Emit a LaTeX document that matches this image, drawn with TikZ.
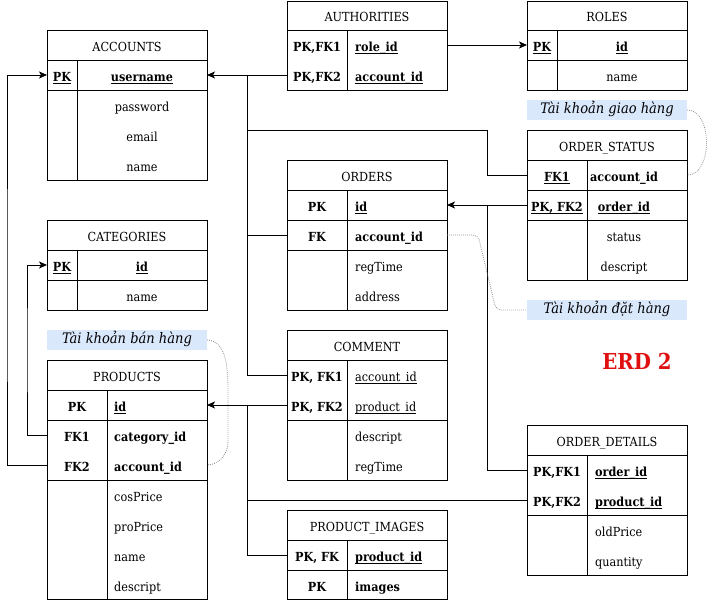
\documentclass[tikz,border=0pt]{standalone}
\usepackage{fontspec}
\setmainfont{DejaVu Serif Condensed}
\usetikzlibrary{arrows.meta}
\definecolor{lblue}{HTML}{DAE8FC}
\definecolor{erdred}{HTML}{E01010}
\newcommand\uln[1]{\setbox0\hbox{#1}\rlap{\rule[-1.9pt]{\wd0}{0.7pt}}\box0}
\newcommand\erdbox[8]{%
  \node[tbl, minimum width={#3-#1}, minimum height={#4-#2}] (#8) at ({(#1+#3)/2},{(#2+#4)/2}) {};
  \draw[tblline] (#1,#5) -- (#3,#5);
  \draw[tblline] (#6,#5) -- (#6,#4);
  \node[hdr] (#8-title) at ({(#1+#3)/2},{(#2+#5)/2}) {#7};
}
\begin{document}
\begin{tikzpicture}[x=1pt,y=-1pt,
  tbl/.style={draw, line width=0.9pt, inner sep=0, outer sep=0},
  tblline/.style={line width=0.9pt},
  hdr/.style={font=\fontsize{12.5}{15}\selectfont, inner sep=0, text height=13pt, text depth=0pt},
  t/.style={font=\fontsize{12.5}{15}\selectfont, inner sep=0, text height=13pt, text depth=0pt},
  tb/.style={t, font=\fontsize{12.5}{15}\selectfont\bfseries},
  tw/.style={t, anchor=west},
  tbw/.style={tb, anchor=west},
  rowbox/.style={minimum width=160pt, minimum height=30pt, inner sep=0, outer sep=0},
  conn/.style={line width=0.9pt},
  arr/.style={conn, -{Stealth[length=8pt,width=7pt,inset=2pt]}},
  note/.style={draw=gray!90, line width=0.8pt, dash pattern=on 0.8pt off 1.2pt},
  lbl/.style={fill=lblue, minimum width=160pt, minimum height=20pt, inner sep=0,
    font=\fontsize{14.5}{17}\selectfont\itshape, text height=10pt, text depth=3pt}
]
\useasboundingbox (0,0) rectangle (708,601);

% ---------- ACCOUNTS ----------
\erdbox{47}{30}{207}{180}{60}{77}{ACCOUNTS}{acc}
\draw[tblline] (47,90) -- (207,90);
\node[rowbox] (acc-user) at (127,75) {};
\node[tb] (acc-k1) at (62,75) {\uln{PK}};
\node[tb] (acc-a1) at (142,75) {\uln{username}};
\node[t] (acc-a2) at (142,105) {password};
\node[t] (acc-a3) at (142,135) {email};
\node[t] (acc-a4) at (142,165) {name};

% ---------- AUTHORITIES ----------
\erdbox{287}{1}{447}{90}{30}{347}{AUTHORITIES}{auth}
\node[rowbox] (auth-role) at (367,45) {};
\node[rowbox] (auth-acc) at (367,75) {};
\node[tb] (auth-k1) at (317,45) {PK,FK1};
\node[tb] (auth-k2) at (317,75) {PK,FK2};
\node[tbw] (auth-a1) at (355,45) {\uln{role\_id}};
\node[tbw] (auth-a2) at (355,75) {\uln{account\_id}};

% ---------- ROLES ----------
\erdbox{527}{1}{687}{90}{30}{557}{ROLES}{roles}
\draw[tblline] (527,60) -- (687,60);
\node[rowbox] (roles-id) at (607,45) {};
\node[tb] (roles-k1) at (542,45) {\uln{PK}};
\node[tb] (roles-a1) at (622,45) {\uln{id}};
\node[t] (roles-a2) at (622,75) {name};

% ---------- label giao hang ----------
\node[lbl] (lbl-giao) at (607,110) {Tài khoản giao hàng};

% ---------- ORDER_STATUS ----------
\erdbox{527}{130}{687}{280}{160}{587}{ORDER\_STATUS}{os}
\draw[tblline] (527,190) -- (687,190);
\draw[tblline] (527,220) -- (687,220);
\node[rowbox] (os-acc) at (607,175) {};
\node[rowbox] (os-ord) at (607,205) {};
\node[tb] (os-k1) at (557,175) {\uln{FK1}};
\node[tb] (os-a1) at (624,175) {account\_id};
\node[tb] (os-k2) at (557,205) {\uln{PK, FK2}};
\node[tb] (os-a2) at (624,205) {\uln{order\_id}};
\node[t] (os-a3) at (624,235) {status};
\node[t] (os-a4) at (624,265) {descript};

% ---------- ORDERS ----------
\erdbox{287}{160}{447}{310}{190}{347}{ORDERS}{ord}
\draw[tblline] (287,220) -- (447,220);
\draw[tblline] (287,250) -- (447,250);
\node[rowbox] (ord-id) at (367,205) {};
\node[rowbox] (ord-acc) at (367,235) {};
\node[tb] (ord-k1) at (317,205) {PK};
\node[tb] (ord-k2) at (317,235) {FK};
\node[tbw] (ord-a1) at (355,205) {\uln{id}};
\node[tbw] (ord-a2) at (355,235) {account\_id};
\node[tw] (ord-a3) at (355,265) {regTime};
\node[tw] (ord-a4) at (355,295) {address};

% ---------- label dat hang ----------
\node[lbl] (lbl-dat) at (607,310) {Tài khoản đặt hàng};

% ---------- ERD 2 ----------
\node[font=\fontsize{22}{26}\selectfont\bfseries, text=erdred, inner sep=0] (erd) at (637,361) {ERD 2};

% ---------- COMMENT ----------
\erdbox{287}{330}{447}{480}{360}{347}{COMMENT}{com}
\draw[tblline] (287,420) -- (447,420);
\node[rowbox] (com-acc) at (367,375) {};
\node[rowbox] (com-prod) at (367,405) {};
\node[tb] (com-k1) at (317,375) {PK, FK1};
\node[tb] (com-k2) at (317,405) {PK, FK2};
\node[tw] (com-a1) at (355,375) {\uln{account\_id}};
\node[tw] (com-a2) at (355,405) {\uln{product\_id}};
\node[tw] (com-a3) at (355,435) {descript};
\node[tw] (com-a4) at (355,465) {regTime};

% ---------- ORDER_DETAILS ----------
\erdbox{527}{425}{687}{575}{455}{587}{ORDER\_DETAILS}{od}
\draw[tblline] (527,515) -- (687,515);
\node[rowbox] (od-ord) at (607,470) {};
\node[rowbox] (od-prod) at (607,500) {};
\node[tb] (od-k1) at (557,470) {PK,FK1};
\node[tb] (od-k2) at (557,500) {PK,FK2};
\node[tbw] (od-a1) at (595,470) {\uln{order\_id}};
\node[tbw] (od-a2) at (595,500) {\uln{product\_id}};
\node[tw] (od-a3) at (595,530) {oldPrice};
\node[tw] (od-a4) at (595,560) {quantity};

% ---------- PRODUCT_IMAGES ----------
\erdbox{287}{510}{447}{599.5}{540}{347}{PRODUCT\_IMAGES}{pi}
\draw[tblline] (287,570) -- (447,570);
\node[rowbox] (pi-prod) at (367,555) {};
\node[tb] (pi-k1) at (317,555) {PK, FK};
\node[tb] (pi-k2) at (317,585) {PK};
\node[tbw] (pi-a1) at (355,555) {\uln{product\_id}};
\node[tbw] (pi-a2) at (355,585) {images};

% ---------- CATEGORIES ----------
\erdbox{47}{220}{207}{310}{250}{77}{CATEGORIES}{cat}
\draw[tblline] (47,280) -- (207,280);
\node[rowbox] (cat-id) at (127,265) {};
\node[tb] (cat-k1) at (62,265) {\uln{PK}};
\node[tb] (cat-a1) at (142,265) {\uln{id}};
\node[t] (cat-a2) at (142,295) {name};

% ---------- label ban hang ----------
\node[lbl] (lbl-ban) at (127,340) {Tài khoản bán hàng};

% ---------- PRODUCTS ----------
\erdbox{47}{360}{207}{599.5}{390}{107}{PRODUCTS}{prod}
\draw[tblline] (47,420) -- (207,420);
\draw[tblline] (47,480) -- (207,480);
\node[rowbox] (prod-id) at (127,405) {};
\node[rowbox] (prod-cat) at (127,435) {};
\node[rowbox] (prod-acc) at (127,465) {};
\node[tb] (prod-k1) at (77,405) {PK};
\node[tb] (prod-k2) at (77,435) {FK1};
\node[tb] (prod-k3) at (77,465) {FK2};
\node[tbw] (prod-a1) at (114,405) {\uln{id}};
\node[tbw] (prod-a2) at (114,435) {category\_id};
\node[tbw] (prod-a3) at (114,465) {account\_id};
\node[tw] (prod-a4) at (114,495) {cosPrice};
\node[tw] (prod-a5) at (114,525) {proPrice};
\node[tw] (prod-a6) at (114,555) {name};
\node[tw] (prod-a7) at (114,585) {descript};

% ---------- connectors ----------
\coordinate (jA) at (247,75);
\coordinate (jA2) at (247,130);
\coordinate (bendA) at (487,130);
\coordinate (jB) at (487,205);
\coordinate (jC) at (247,405);
\coordinate (jC2) at (247,500);
\coordinate (railA) at (7,300);
\coordinate (railB) at (27,350);

\draw[arr] (auth-acc.west) -- (acc-user.east);
\draw[conn] (jA2) -- (bendA) |- (os-acc.west);
\draw[conn] (jA) |- (ord-acc.west);
\draw[conn] (jA) |- (com-acc.west);
\draw[arr] (auth-role.east) -- (roles-id.west);
\draw[arr] (os-ord.west) -- (ord-id.east);
\draw[conn] (jB) |- (od-ord.west);
\draw[arr] (prod-acc.west) -| (railA) |- (acc-user.west);
\draw[arr] (prod-cat.west) -| (railB) |- (cat-id.west);
\draw[arr] (com-prod.west) -- (prod-id.east);
\draw[conn] (jC) |- (pi-prod.west);
\draw[conn] (jC2) -- (od-prod.west);

% ---------- dotted notes ----------
\coordinate (nD1) at (478,235);
\coordinate (nD2) at (496,310);
\coordinate (nB1) at (228,400);
\coordinate (nB2) at (228,440);
\draw[note] (lbl-giao.east) .. controls (713,110) and (713,176) .. (os-acc.east);
\draw[note, rounded corners=5pt] (ord-acc.east) -- (nD1) -- (nD2) -- (lbl-dat.west);
\draw[note] (lbl-ban.east) .. controls (229,341) and (228,375) .. (nB1) -- (nB2) .. controls (228,458) and (216,465) .. (prod-acc.east);
\end{tikzpicture}
\end{document}
